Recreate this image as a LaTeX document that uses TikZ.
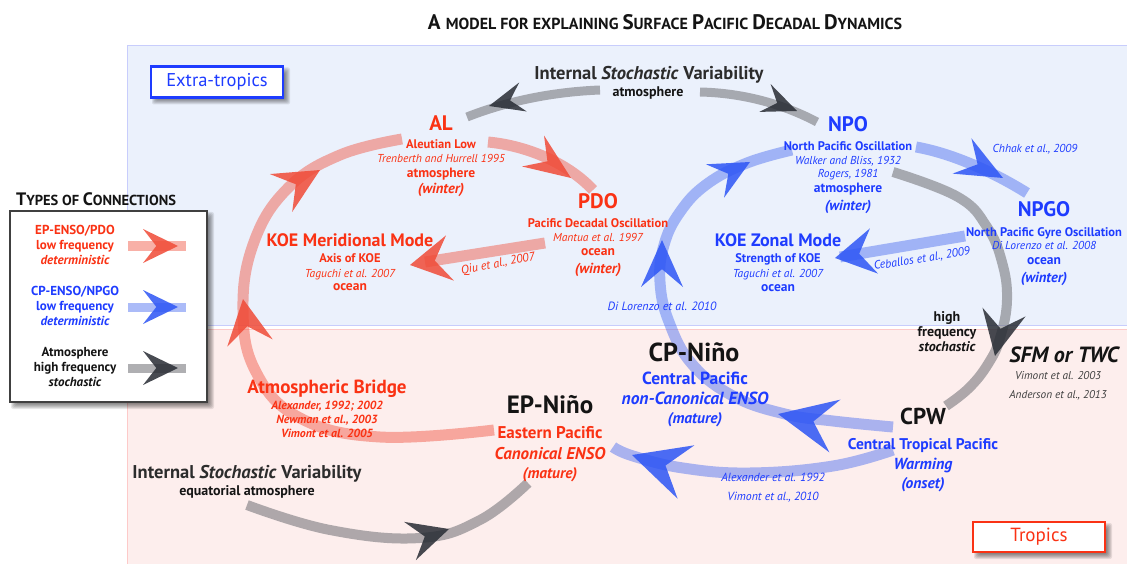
\documentclass[tikz,border=0pt]{standalone}
\usepackage{fontspec}
\setmainfont{PT Sans}
\usetikzlibrary{calc}
\definecolor{rtx}{RGB}{250,50,20}
\definecolor{btx}{RGB}{30,60,255}
\definecolor{ktx}{RGB}{20,20,20}
\definecolor{bgblue}{RGB}{235,241,252}
\definecolor{bgpink}{RGB}{253,238,237}
\definecolor{redbar}{RGB}{240,80,60}
\definecolor{bluebar}{RGB}{70,105,240}
\definecolor{graybar}{RGB}{110,110,115}
\definecolor{redhead}{RGB}{240,75,55}
\definecolor{bluehead}{RGB}{45,85,245}
\definecolor{grayhead}{RGB}{40,44,52}
\newcommand\fs[1]{\fontsize{#1}{#1}\selectfont}
\newcommand\kite[4]{\fill[#4] (#1) -- ($(#2)!#3!90:(#1)$) -- ($(#2)!0.38!(#1)$) -- ($(#2)!#3!-90:(#1)$) -- cycle;}
\newcommand\softshadow[4]{\foreach \d in {0,...,6}{\fill[black, fill opacity=0.09, rounded corners=2pt] ({#1+7-\d},{#2+7-\d}) rectangle ({#3+1+\d},{#4+1+\d});}}
\tikzset{
 lbl/.style={anchor=base, inner sep=0pt},
 hd/.style={lbl, font=\bfseries\fs{21}},
 hdm/.style={lbl, font=\bfseries\fs{18}},
 hdl/.style={lbl, font=\bfseries\fs{26}},
 subt/.style={lbl, font=\bfseries\fs{12.5}},
 cite/.style={lbl, font=\itshape\fs{11.5}},
 medt/.style={lbl, font=\bfseries\fs{13.5}},
 wint/.style={lbl, font=\bfseries\itshape\fs{14.5}},
 cpt/.style={lbl, font=\bfseries\fs{17.5}},
 cpi/.style={lbl, font=\bfseries\itshape\fs{17.5}},
 rbar/.style={draw=redbar, draw opacity=0.45, line width=11pt},
 bbar/.style={draw=bluebar, draw opacity=0.45, line width=11pt},
 gbar/.style={draw=graybar, draw opacity=0.55, line width=10pt},
 rhead/.style={fill=redhead, fill opacity=0.85},
 bhead/.style={fill=bluehead, fill opacity=0.85},
 ghead/.style={fill=grayhead, fill opacity=0.85}
}
\begin{document}
\begin{tikzpicture}[x=1pt,y=-1pt]
\useasboundingbox (0,0) rectangle (1127,564);
\fill[white] (0,0) rectangle (1127,564);
\fill[bgblue] (127,45) rectangle (1127,325);
\draw[bgblue!85!blue, line width=0.8pt] (1127,45) -- (127.4,45) -- (127.4,325) -- (1127,325);
\fill[bgpink] (127,329) rectangle (1127,564);
\draw[bgpink!85!red, line width=0.8pt] (1127,329) -- (127.4,329) -- (127.4,564);

% title
\node[lbl, font=\bfseries, text=ktx] (title) at (665,29.5) {\fs{21}A \fs{16}MODEL FOR EXPLAINING \fs{21}S\fs{16}URFACE \fs{21}P\fs{16}ACIFIC \fs{21}D\fs{16}ECADAL \fs{21}D\fs{16}YNAMICS};

% ---------- connectors ----------
% gray top
\draw[gbar, line width=9pt] (600,90) .. controls (550,92) and (505,102) .. (467,117);
\draw[gbar, line width=9pt] (700,92) .. controls (745,93) and (785,105) .. (817,122);
\kite{489,106}{523,97}{15pt}{ghead}
\kite{797,111}{765,98}{15pt}{ghead}
% red big arc
\draw[rbar] plot[smooth, tension=0.7] coordinates {(494,430) (380,437) (300,418) (256,372) (243,310) (254,242) (288,188) (340,155) (402,139)};
\kite{243,299}{250,343}{23pt}{rhead}
\kite{320,170}{281,193}{22pt}{rhead}
% red AL -> PDO
\draw[rbar] (488,142) .. controls (530,146) and (570,165) .. (593,190);
\kite{571,178}{533,151}{19pt}{rhead}
% red PDO -> KOE
\draw[rbar] (545,243) -- (425,262);
\kite{410,265}{450,258}{23pt}{rhead}
% blue big arc
\draw[bbar] plot[smooth, tension=0.7] coordinates {(893,427) (833,421) (785,414) (733,396) (692,364) (669,322) (660,282) (664,245) (680,212) (707,184) (747,163) (792,150)};
\kite{778,414}{835,426}{27pt}{bhead}
\kite{662,240}{662,287}{21pt}{bhead}
\kite{750,162}{715,181}{19pt}{bhead}
% blue NPO -> NPGO
\draw[bbar] (916,147) .. controls (950,153) and (990,170) .. (1027,193);
\kite{1003,178}{962,156}{20pt}{bhead}
% blue NPGO -> KOE
\draw[bbar] (965,236) -- (840,257);
\kite{835,258}{874,251}{23pt}{bhead}
% blue lower
\draw[bbar] plot[smooth, tension=0.7] coordinates {(893,450) (833,466) (750,473) (683,468) (633,456) (613,447)};
\kite{632,455}{686,472}{28pt}{bhead}
% gray big right
\draw[gbar] plot[smooth, tension=0.7] coordinates {(893,172) (958,197) (987,227) (1002,262) (1007,300) (1000,338) (988,364) (969,388) (946,406)};
\kite{995,356}{1004,312}{22pt}{ghead}
% gray bottom
\draw[gbar] plot[smooth, tension=0.7] coordinates {(247,505) (330,530) (420,538) (480,520) (528,483)};
\kite{449,529}{410,541}{20pt}{ghead}

% ---------- labels ----------
\node[lbl, font=\bfseries\fs{18.5}, text=ktx!90] (isvt) at (649,79.5) {Internal \textit{Stochastic} Variability};
\node[lbl, font=\bfseries\fs{14}, text=ktx] (isvta) at (648,97) {atmosphere};

\node[hd, text=rtx] (al) at (441,131) {AL};
\node[subt, text=rtx] (al1) at (441,148.5) {Aleutian Low};
\node[cite, text=rtx] (al2) at (441,163) {Trenberth and Hurrell 1995};
\node[medt, text=rtx] (al3) at (441,178) {atmosphere};
\node[wint, text=rtx] (al4) at (441,194) {(winter)};

\node[hd, text=rtx] (pdo) at (598,208) {PDO};
\node[subt, text=rtx] (pdo1) at (598,227.5) {Pacific Decadal Oscillation};
\node[cite, text=rtx] (pdo2) at (598,241) {Mantua et al. 1997};
\node[medt, text=rtx] (pdo3) at (598,255) {ocean};
\node[wint, text=rtx] (pdo4) at (598,273) {(winter)};

\node[hdm, text=rtx] (koem) at (350,246.5) {KOE Meridional Mode};
\node[subt, text=rtx] (koem1) at (350,262.5) {Axis of KOE};
\node[cite, text=rtx] (koem2) at (350,277) {Taguchi et al. 2007};
\node[medt, text=rtx] (koem3) at (350,290) {ocean};
\node[cite, font=\itshape\fs{12}, text=rtx, anchor=center, rotate=11] (qiu) at (498,264) {Qiu et al., 2007};

\node[hd, text=btx] (npo) at (848,131.5) {NPO};
\node[subt, text=btx] (npo1) at (848,150.5) {North Pacific Oscillation};
\node[cite, text=btx] (npo2) at (848,165) {Walker and Bliss, 1932};
\node[cite, text=btx] (npo3) at (848,178) {Rogers, 1981};
\node[medt, text=btx] (npo4) at (848,193) {atmosphere};
\node[wint, text=btx] (npo5) at (848,211) {(winter)};
\node[cite, text=btx, anchor=center] (chhak) at (1035,149) {Chhak et al., 2009};

\node[hd, text=btx] (npgo) at (1044,216.5) {NPGO};
\node[subt, text=btx] (npgo1) at (1044,236.5) {North Pacific Gyre Oscillation};
\node[cite, text=btx] (npgo2) at (1044,249) {Di Lorenzo et al. 2008};
\node[medt, text=btx] (npgo3) at (1044,265) {ocean};
\node[wint, text=btx] (npgo4) at (1044,282) {(winter)};

\node[hdm, text=btx] (koez) at (778,246.5) {KOE Zonal Mode};
\node[subt, text=btx] (koez1) at (778,262.5) {Strength of KOE};
\node[cite, text=btx] (koez2) at (778,277) {Taguchi et al. 2007};
\node[medt, text=btx] (koez3) at (778,291) {ocean};
\node[cite, font=\itshape\fs{11.8}, text=btx, anchor=center, rotate=9] (ceb) at (922,259) {Ceballos et al., 2009};
\node[cite, font=\itshape\fs{12}, text=btx, anchor=center] (dil) at (662,306) {Di Lorenzo et al. 2010};

\node[lbl, font=\bfseries\fs{14}, text=ktx] (hf1) at (947,321.5) {high};
\node[lbl, font=\bfseries\fs{14}, text=ktx] (hf2) at (947,336.5) {frequency};
\node[lbl, font=\bfseries\itshape\fs{14}, text=ktx] (hf3) at (947,351.5) {stochastic};

\node[lbl, font=\bfseries\itshape\fs{22}, text=ktx] (sfm) at (1064,362) {SFM or TWC};
\node[lbl, font=\itshape\fs{11.3}, text=black!75] (sfm1) at (1058,379) {Vimont et al. 2003};
\node[lbl, font=\itshape\fs{11.3}, text=black!75] (sfm2) at (1058,398) {Anderson et al., 2013};

\node[hdl, text=ktx] (cpn) at (694,361) {CP-Niño};
\node[cpt, text=btx] (cpn1) at (695,384) {Central Pacific};
\node[cpi, text=btx] (cpn2) at (695,404) {non-Canonical ENSO};
\node[wint, font=\bfseries\itshape\fs{15.5}, text=btx] (cpn3) at (695,423) {(mature)};

\node[hdl, font=\bfseries\fs{25}, text=ktx] (epn) at (550,413) {EP-Niño};
\node[cpt, font=\bfseries\fs{17}, text=rtx] (epn1) at (550,438) {Eastern Pacific};
\node[cpi, font=\bfseries\itshape\fs{17}, text=rtx] (epn2) at (550,459) {Canonical ENSO};
\node[wint, font=\bfseries\itshape\fs{15.5}, text=rtx] (epn3) at (550,478) {(mature)};

\node[lbl, font=\bfseries\fs{19}, text=rtx] (ab) at (327,393.5) {Atmospheric Bridge};
\node[lbl, font=\bfseries\itshape\fs{11.8}, text=rtx] (ab1) at (327,409) {Alexander, 1992; 2002};
\node[lbl, font=\bfseries\itshape\fs{11.8}, text=rtx] (ab2) at (327,423) {Newman et al., 2003};
\node[lbl, font=\bfseries\itshape\fs{11.8}, text=rtx] (ab3) at (327,437) {Vimont et al. 2005};

\node[lbl, font=\bfseries\fs{18.5}, text=ktx!90] (isvb) at (247,478.5) {Internal \textit{Stochastic} Variability};
\node[lbl, font=\bfseries\fs{14}, text=ktx] (isvb1) at (247,495.5) {equatorial atmosphere};

\node[lbl, font=\bfseries\fs{23}, text=ktx] (cpw) at (923,424) {CPW};
\node[lbl, font=\bfseries\fs{15.5}, text=btx] (cpw1) at (923,449.5) {Central Tropical Pacific};
\node[lbl, font=\bfseries\itshape\fs{16}, text=btx] (cpw2) at (923,469.5) {Warming};
\node[lbl, font=\bfseries\itshape\fs{15.5}, text=btx] (cpw3) at (923,488) {(onset)};
\node[lbl, font=\itshape\fs{11.8}, text=btx] (alx) at (773,481) {Alexander et al. 1992};
\node[lbl, font=\itshape\fs{11.8}, text=btx] (vim) at (773,500) {Vimont et al., 2010};

% ---------- region boxes ----------
\softshadow{151}{66.5}{283}{97.5}
\node[draw=btx, line width=2.2pt, fill=white, minimum width=132pt, minimum height=31pt, text=btx, font=\fs{18.5}] (xtrop) at (217,82) {Extra-tropics};
\softshadow{973}{522}{1105}{552}
\node[draw=rtx, line width=2.2pt, fill=white, minimum width=132pt, minimum height=30pt, text=rtx, font=\fs{19}] (trop) at (1039,537) {Tropics};

% ---------- legend ----------
\node[lbl, font=\bfseries, text=ktx] (legt) at (96,205.5) {\fs{18}T\fs{14.5}YPES OF \fs{18}C\fs{14.5}ONNECTIONS};
\softshadow{10}{211}{207}{402}
\draw[line width=2.5pt, draw=black!75, fill=white] (10,211) rectangle (207,402);
\node[lbl, font=\bfseries\fs{13}, text=rtx] (l1a) at (75,234) {EP-ENSO/PDO};
\node[lbl, font=\bfseries\fs{13}, text=rtx] (l1b) at (75,249) {low frequency};
\node[lbl, font=\bfseries\itshape\fs{13}, text=rtx] (l1c) at (75,264) {deterministic};
\node[lbl, font=\bfseries\fs{13}, text=btx] (l2a) at (75,295) {CP-ENSO/NPGO};
\node[lbl, font=\bfseries\fs{13}, text=btx] (l2b) at (75,310) {low frequency};
\node[lbl, font=\bfseries\itshape\fs{13}, text=btx] (l2c) at (75,325) {deterministic};
\node[lbl, font=\bfseries\fs{13}, text=ktx] (l3a) at (75,356) {Atmosphere};
\node[lbl, font=\bfseries\fs{13}, text=ktx] (l3b) at (75,371) {high frequency};
\node[lbl, font=\bfseries\itshape\fs{13}, text=ktx] (l3c) at (75,386) {stochastic};
\draw[rbar, line width=9pt] (128,246) -- (186,246);
\kite{178,246}{143,246}{17pt}{rhead}
\draw[bbar, line width=9pt] (128,307) -- (186,307);
\kite{178,307}{143,307}{17pt}{bhead}
\draw[gbar, line width=9pt] (128,368) -- (186,368);
\kite{178,368}{143,368}{17pt}{ghead}
\end{tikzpicture}
\end{document}
